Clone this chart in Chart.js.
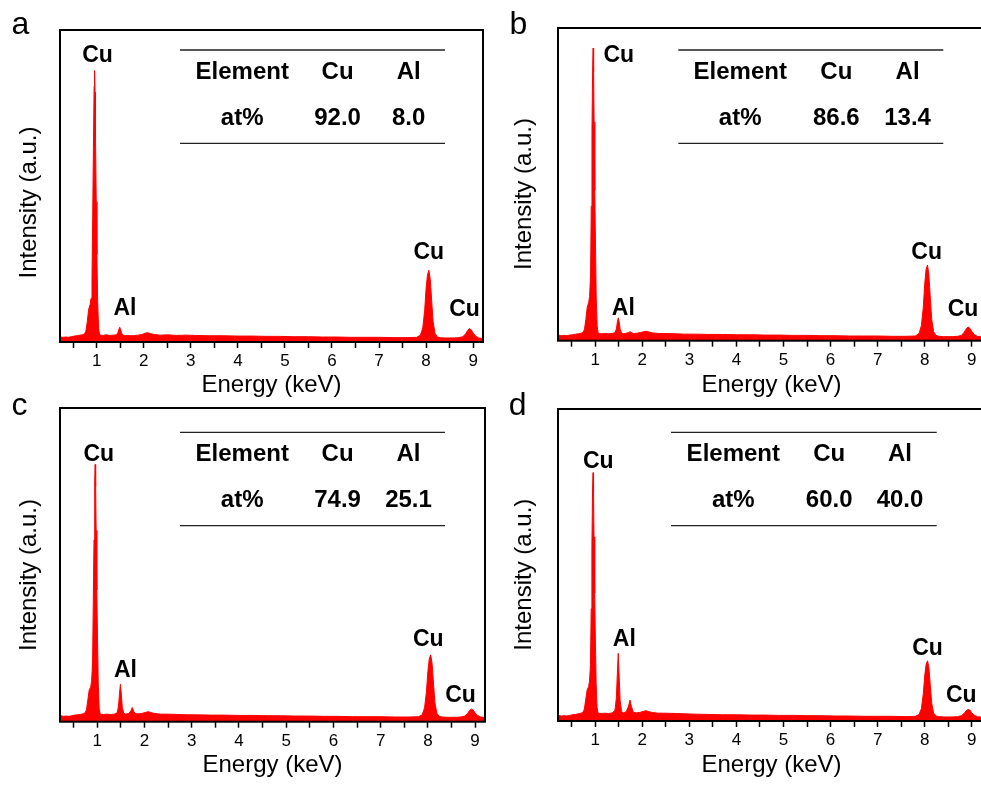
<!DOCTYPE html>
<html>
<head>
<meta charset="utf-8">
<script src="https://cdn.jsdelivr.net/npm/chart.js@4.4.1/dist/chart.umd.min.js"></script>
<style>
  html, body { margin: 0; padding: 0; background: #fff; overflow: hidden; width: 981px; height: 785px; }
  canvas { position: absolute; display: block; }
</style>
</head>
<body>
<canvas id="pa" width="490" height="400" style="left:0px;top:0px"></canvas>
<canvas id="pb" width="495" height="400" style="left:490px;top:0px"></canvas>
<canvas id="pc" width="490" height="390" style="left:0px;top:390px"></canvas>
<canvas id="pd" width="495" height="390" style="left:490px;top:390px"></canvas>
<script>
// ---- data ----
const ENERGY = [0.2,0.28,0.34,0.40,0.46,0.52,0.58,0.64,0.70,0.74,0.77,0.80,0.83,0.86,0.88,0.90,0.915,0.93,0.945,0.955,0.965,0.975,0.99,1.005,1.02,1.04,1.06,1.09,1.13,1.2,1.28,1.36,1.42,1.45,1.47,1.49,1.51,1.53,1.56,1.6,1.66,1.71,1.74,1.77,1.81,1.88,1.96,2.03,2.08,2.14,2.22,2.35,2.5,2.7,2.9,3.1,3.4,3.7,4.0,4.3,4.6,4.9,5.2,5.5,5.8,6.1,6.4,6.7,7.0,7.3,7.6,7.8,7.88,7.93,7.97,8.0,8.03,8.06,8.09,8.12,8.15,8.19,8.24,8.3,8.4,8.5,8.6,8.7,8.78,8.84,8.88,8.92,8.96,9.0,9.06,9.12,9.21,9.3];

const INTENSITY_A = [1.7,1.5,1.6,1.5,1.7,1.9,2.0,2.2,2.3,2.6,3.5,6.5,10.5,12.0,14.0,20,40,62,82,87,80,65,45,28,13,4.5,2.4,2.2,2.1,2.3,2.1,2.2,2.3,3.0,4.0,4.7,3.9,2.8,2.2,2.0,2.1,2.0,2.1,2.0,2.1,2.2,2.4,2.8,3.0,2.7,2.4,2.2,2.3,2.1,2.2,2.1,2.0,2.0,1.9,1.9,1.8,1.8,1.7,1.7,1.6,1.6,1.5,1.5,1.5,1.4,1.4,1.5,2.2,4.5,10,17,21.5,23,20,13,6.5,2.8,1.6,1.4,1.3,1.3,1.3,1.4,1.7,2.6,3.6,4.3,3.9,2.9,1.8,1.3,1.1,1.1];

const INTENSITY_B = [1.8,1.6,1.7,1.6,1.8,1.9,2.1,2.2,2.4,2.7,3.6,6.8,10.8,12.2,14.2,21,43,67,88,93.6,86,70,48,30,14,4.8,2.5,2.3,2.2,2.3,2.2,2.3,2.6,3.8,6.0,7.3,5.8,3.5,2.5,2.2,2.4,2.6,2.9,2.6,2.3,2.4,2.6,2.9,3.0,2.8,2.5,2.3,2.3,2.2,2.1,2.1,2.0,2.0,1.9,1.9,1.8,1.8,1.7,1.7,1.6,1.6,1.5,1.5,1.5,1.4,1.4,1.5,2.3,4.8,10.5,18,22.8,24.2,21,13.5,6.8,2.9,1.7,1.4,1.3,1.3,1.3,1.4,1.7,2.7,3.7,4.4,4.0,3.0,1.9,1.4,1.2,1.2];

const INTENSITY_C = [2.0,1.7,1.8,1.7,1.9,2.1,2.2,2.3,2.5,2.8,3.8,7.0,10.2,11.0,13.0,19,38,58,77,82,75,61,42,26,12,4.3,2.5,2.3,2.3,2.4,2.3,2.4,2.8,5.0,9.0,11.9,8.5,4.5,2.7,2.4,2.6,3.4,4.5,3.3,2.5,2.5,2.7,3.0,3.2,2.9,2.6,2.4,2.4,2.3,2.2,2.2,2.1,2.1,2.0,2.0,1.9,1.9,1.8,1.8,1.7,1.7,1.6,1.6,1.6,1.5,1.5,1.6,2.2,4.4,9.5,16,20,21.3,18.5,12,6,2.7,1.7,1.5,1.4,1.4,1.4,1.5,1.8,2.6,3.5,4.0,3.7,2.8,1.9,1.5,1.3,1.3];

const INTENSITY_D = [1.9,1.6,1.7,1.6,1.8,2.0,2.1,2.3,2.5,2.8,3.8,7.0,10.0,11.0,12.8,18,36,56,75,79.6,73,59,41,25,12,4.3,2.6,2.4,2.4,2.5,2.4,2.6,3.4,7.5,15,21.7,14,6.5,3.0,2.6,3.0,4.8,6.7,4.6,2.8,2.6,2.8,3.1,3.3,3.0,2.7,2.5,2.5,2.4,2.3,2.2,2.1,2.0,2.0,1.9,1.9,1.8,1.8,1.7,1.7,1.6,1.6,1.5,1.5,1.5,1.4,1.5,2.1,4.0,8.8,14.5,18.2,19.3,17,11,5.5,2.5,1.6,1.4,1.3,1.3,1.3,1.4,1.7,2.5,3.3,3.7,3.5,2.6,1.8,1.4,1.2,1.2];

const X_TICKS = [0.5,1,1.5,2,2.5,3,3.5,4,4.5,5,5.5,6,6.5,7,7.5,8,8.5,9];
const X_TITLE = 'Energy (keV)';
const Y_TITLE = 'Intensity (a.u.)';
const TABLE_HEAD = ['Element', 'Cu', 'Al'];
const AT_A = ['at%', '92.0', '8.0'];
const AT_B = ['at%', '86.6', '13.4'];
const AT_C = ['at%', '74.9', '25.1'];
const AT_D = ['at%', '60.0', '40.0'];
const PEAK_NAMES = ['Cu', 'Al', 'Cu', 'Cu'];
const PANEL_LETTERS = ['a', 'b', 'c', 'd'];

// ---- layout / style ----
const FONT = '"Liberation Sans", Arial, Helvetica, sans-serif';
const RED = 'rgb(255,0,0)';

const PANELS = [
  { id:'pa', letter:PANEL_LETTERS[0], values:INTENSITY_A, at:AT_A,
    pad:{left:60, top:30, right:7, bottom:0}, xh:58, xmin:0.22, xmax:9.21,
    letterPos:[11.5,33.5], yTitle:[35.5,202.5],
    table:{x1:180, x2:445, y1:50, y2:143.3, cols:[242.2,337.6,408.7], r1:79, r2:125},
    peaks:[[97.5,62.3],[125,315],[428.8,259.3],[464.5,316]] },
  { id:'pb', letter:PANEL_LETTERS[1], values:INTENSITY_B, at:AT_B,
    pad:{left:68, top:28, right:0, bottom:0}, xh:59.3, xmin:0.208, xmax:9.282,
    letterPos:[19.5,33.5], yTitle:[40.5,194],
    table:{x1:188.3, x2:453.3, y1:50, y2:143.3, cols:[250.2,346.3,417.6], r1:79, r2:125},
    peaks:[[128.8,61.7],[133.3,315],[436.7,259.3],[473,316]] },
  { id:'pc', letter:PANEL_LETTERS[2], values:INTENSITY_C, at:AT_C,
    pad:{left:60, top:18, right:5, bottom:0}, xh:58.3, xmin:0.21, xmax:9.21,
    letterPos:[11.5,25], yTitle:[35.5,185],
    table:{x1:180, x2:445, y1:42.3, y2:135.7, cols:[242.2,337.6,408.5], r1:70.7, r2:117.3},
    peaks:[[98.8,70.7],[125.5,287.3],[428.3,256],[460.5,311.7]] },
  { id:'pd', letter:PANEL_LETTERS[3], values:INTENSITY_D, at:AT_D,
    pad:{left:68, top:19, right:0, bottom:0}, xh:59, xmin:0.21, xmax:9.28,
    letterPos:[18.7,24.5], yTitle:[41.2,184.7],
    table:{x1:181, x2:446.7, y1:42.3, y2:135.7, cols:[243.3,339.2,410], r1:70.7, r2:117.3},
    peaks:[[108.3,78.3],[134.3,256],[437.5,265],[471.3,311.7]] }
];

function annotPlugin(p) {
  return {
    id: 'edsAnnot_' + p.id,
    afterDraw(chart) {
      const ctx = chart.ctx;
      const a = chart.chartArea;
      ctx.save();
      // frame
      ctx.strokeStyle = '#000';
      ctx.lineWidth = 2;
      ctx.strokeRect(a.left, a.top, a.right - a.left, a.bottom - a.top);
      // panel letter
      ctx.fillStyle = '#000';
      ctx.textBaseline = 'alphabetic';
      ctx.textAlign = 'left';
      ctx.font = '32px ' + FONT;
      ctx.fillText(p.letter, p.letterPos[0], p.letterPos[1]);
      // y title
      ctx.save();
      ctx.translate(p.yTitle[0], p.yTitle[1]);
      ctx.rotate(-Math.PI / 2);
      ctx.textAlign = 'center';
      ctx.font = '24px ' + FONT;
      ctx.fillText(Y_TITLE, 0, 0);
      ctx.restore();
      // table
      const t = p.table;
      ctx.strokeStyle = '#222';
      ctx.lineWidth = 1.3;
      ctx.beginPath();
      ctx.moveTo(t.x1, t.y1); ctx.lineTo(t.x2, t.y1);
      ctx.moveTo(t.x1, t.y2); ctx.lineTo(t.x2, t.y2);
      ctx.stroke();
      ctx.textAlign = 'center';
      ctx.font = 'bold 24px ' + FONT;
      TABLE_HEAD.forEach((s, i) => ctx.fillText(s, t.cols[i], t.r1));
      p.at.forEach((s, i) => ctx.fillText(s, t.cols[i], t.r2));
      // peak labels
      ctx.font = 'bold 23px ' + FONT;
      PEAK_NAMES.forEach((s, i) => ctx.fillText(s, p.peaks[i][0], p.peaks[i][1]));
      ctx.restore();
    }
  };
}

function makePanel(p) {
  const canvas = document.getElementById(p.id);
  new Chart(canvas, {
    type: 'line',
    data: {
      datasets: [{
        data: ENERGY.map((e, i) => ({ x: e, y: p.values[i] })),
        borderColor: RED,
        backgroundColor: RED,
        borderWidth: 1,
        fill: 'origin',
        pointRadius: 0,
        tension: 0
      }]
    },
    options: {
      responsive: false,
      animation: false,
      devicePixelRatio: 1,
      layout: { padding: p.pad },
      plugins: { legend: { display: false }, tooltip: { enabled: false } },
      scales: {
        x: {
          type: 'linear',
          min: p.xmin,
          max: p.xmax,
          afterBuildTicks: ax => { ax.ticks = X_TICKS.map(v => ({ value: v })); },
          afterFit: ax => { ax.height = p.xh; },
          ticks: {
            autoSkip: false, maxRotation: 0, minRotation: 0, padding: 3,
            color: '#000', font: { family: FONT, size: 17 },
            callback: v => (Number.isInteger(v) ? String(v) : '')
          },
          grid: { display: true, drawOnChartArea: false, drawTicks: true, tickLength: 6, tickWidth: 1.5, tickColor: '#000' },
          border: { display: false },
          title: { display: true, text: X_TITLE, color: '#000', font: { family: FONT, size: 24 }, padding: { top: 0, bottom: 0 } }
        },
        y: { display: false, min: 0, max: 100 }
      }
    },
    plugins: [annotPlugin(p)]
  });
}

PANELS.forEach(makePanel);
</script>
</body>
</html>
